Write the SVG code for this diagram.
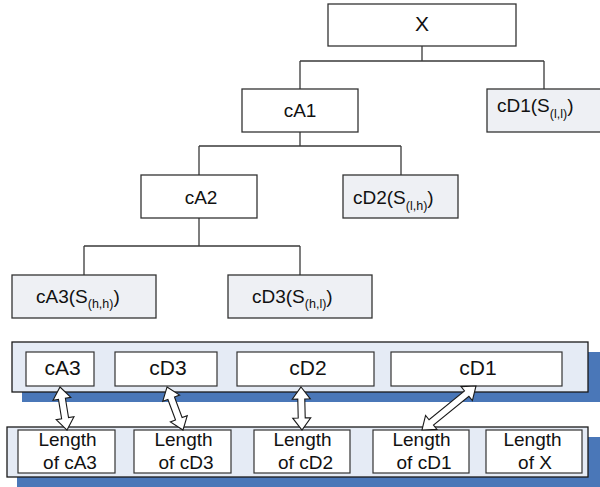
<svg xmlns="http://www.w3.org/2000/svg" width="600" height="487" viewBox="0 0 600 487">
  <style>
    .node { fill: #ffffff; stroke: #333333; stroke-width: 1.3; }
    .leaf { fill: #eef0f4; stroke: #333333; stroke-width: 1.3; }
    .link { fill: none; stroke: #3a3a3a; stroke-width: 1.3; }
    .panel { fill: #e5ebf5; stroke: #1a1a1a; stroke-width: 1.3; }
    .shadow { fill: #4a77b8; }
    .cell { fill: #ffffff; stroke: #333333; stroke-width: 1.2; }
    .arrow { fill: #ffffff; stroke: #1a1a1a; stroke-width: 1.1; stroke-linejoin: miter; }
    text { font-family: "Liberation Sans", Arial, Helvetica, sans-serif; font-size: 19px; fill: #111111; }
    .c { text-anchor: middle; }
    .sub { font-size: 12.5px; }
    .big { font-size: 21px; }
  </style>

  <!-- tree connectors -->
  <g id="connectors">
    <path class="link" d="M422,46 V61 M300,61 H544 M300,61 V89 M544,61 V89"/>
    <path class="link" d="M300,132 V146 M199,146 H401 M199,146 V175 M401,146 V175"/>
    <path class="link" d="M199,218 V246 M84,246 H300 M84,246 V275 M300,246 V275"/>
  </g>

  <!-- decomposition tree -->
  <g id="node-X">
    <rect class="node" x="328" y="4" width="188" height="42"/>
    <text class="c big" x="422" y="31">X</text>
  </g>
  <g id="node-cA1">
    <rect class="node" x="242" y="89" width="116" height="43"/>
    <text class="c" x="300" y="117">cA1</text>
  </g>
  <g id="node-cD1">
    <rect class="leaf" x="487" y="89" width="116" height="43"/>
    <text x="497" y="112">cD1(S<tspan class="sub" dy="5.5">(l,l)</tspan><tspan dy="-5.5">)</tspan></text>
  </g>
  <g id="node-cA2">
    <rect class="node" x="141" y="175" width="116" height="43"/>
    <text class="c" x="201" y="203.5">cA2</text>
  </g>
  <g id="node-cD2">
    <rect class="leaf" x="343" y="175" width="115" height="43"/>
    <text x="353" y="204">cD2(S<tspan class="sub" dy="5.5">(l,h)</tspan><tspan dy="-5.5">)</tspan></text>
  </g>
  <g id="node-cA3">
    <rect class="leaf" x="12" y="275" width="144" height="43"/>
    <text x="36" y="302.5">cA3(S<tspan class="sub" dy="5.5">(h,h)</tspan><tspan dy="-5.5">)</tspan></text>
  </g>
  <g id="node-cD3">
    <rect class="leaf" x="228" y="275" width="144" height="43"/>
    <text x="252" y="302.5">cD3(S<tspan class="sub" dy="5.5">(h,l)</tspan><tspan dy="-5.5">)</tspan></text>
  </g>

  <!-- coefficient vector -->
  <g id="coefficients">
    <rect class="shadow" x="22" y="352" width="580" height="50"/>
    <rect class="panel" x="12" y="342" width="576" height="50"/>
    <rect class="cell" x="26" y="352" width="68" height="34"/>
    <text class="c big" x="62.5" y="375">cA3</text>
    <rect class="cell" x="115" y="352" width="102" height="34"/>
    <text class="c big" x="168" y="375">cD3</text>
    <rect class="cell" x="237" y="352" width="137" height="34"/>
    <text class="c big" x="308" y="375">cD2</text>
    <rect class="cell" x="391" y="352" width="171" height="34"/>
    <text class="c big" x="478" y="375">cD1</text>
  </g>

  <!-- bookkeeping vector -->
  <g id="lengths">
    <rect class="shadow" x="17" y="437" width="585" height="52"/>
    <rect class="panel" x="7" y="427" width="581" height="50"/>
    <rect class="cell" x="18" y="430" width="97" height="43"/>
    <text class="c" x="67.5" y="445.5">Length</text>
    <text class="c" x="70" y="468.5">of cA3</text>
    <rect class="cell" x="134" y="430" width="97" height="43"/>
    <text class="c" x="183.5" y="445.5">Length</text>
    <text class="c" x="186" y="468.5">of cD3</text>
    <rect class="cell" x="254" y="430" width="96" height="43"/>
    <text class="c" x="302.5" y="445.5">Length</text>
    <text class="c" x="305.5" y="468.5">of cD2</text>
    <rect class="cell" x="373" y="430" width="96" height="43"/>
    <text class="c" x="421.5" y="445.5">Length</text>
    <text class="c" x="424" y="468.5">of cD1</text>
    <rect class="cell" x="486" y="430" width="96" height="43"/>
    <text class="c" x="532.5" y="445.5">Length</text>
    <text class="c" x="535" y="468.5">of X</text>
  </g>

  <!-- double-headed block arrows linking coefficients to their lengths -->
  <g id="arrows">
    <polygon class="arrow" transform="translate(60,387) rotate(80.75)" points="0,0 12,-9 12,-3.5 31.6,-3.5 31.6,-9 43.6,0 31.6,9 31.6,3.5 12,3.5 12,9"/>
    <polygon class="arrow" transform="translate(167,387) rotate(69.59)" points="0,0 12,-9 12,-3.5 33.9,-3.5 33.9,-9 45.9,0 33.9,9 33.9,3.5 12,3.5 12,9"/>
    <polygon class="arrow" transform="translate(301,387) rotate(88.67)" points="0,0 12,-9 12,-3.5 31,-3.5 31,-9 43,0 31,9 31,3.5 12,3.5 12,9"/>
    <polygon class="arrow" transform="translate(476,386) rotate(140.83)" points="0,0 12,-9 12,-3.5 57.7,-3.5 57.7,-9 69.7,0 57.7,9 57.7,3.5 12,3.5 12,9"/>
  </g>
</svg>
